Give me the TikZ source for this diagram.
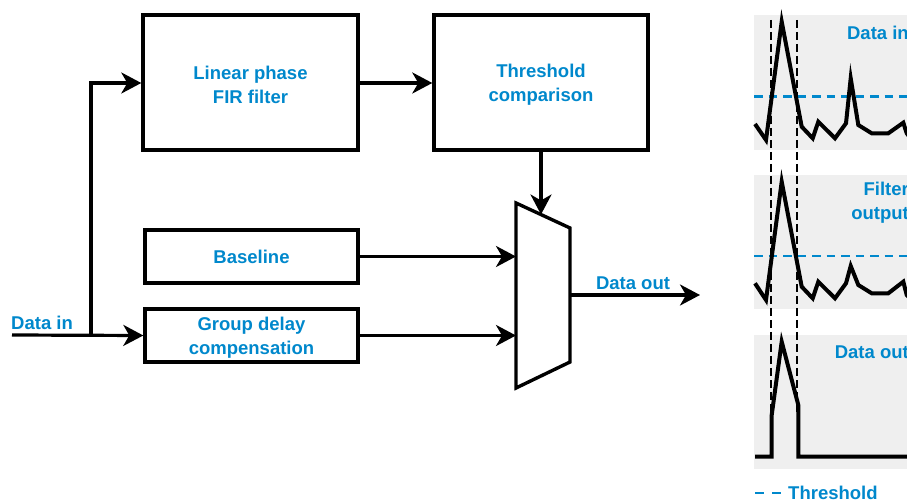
\documentclass[tikz,border=0pt]{standalone}
\usepackage{fontspec}
\setmainfont{Liberation Sans}
\usetikzlibrary{arrows.meta,calc}
\definecolor{lblue}{RGB}{0,136,204}
\definecolor{panelgray}{RGB}{239,239,239}
\tikzset{
  block/.style={draw, line width=3.4pt, minimum width=213pt, minimum height=53pt, inner sep=0pt},
  lbl/.style={text=lblue, font=\fontsize{18.5}{24}\selectfont\bfseries, align=center, inner sep=0pt},
  wire/.style={line width=3.2pt, -{Stealth[length=20pt,width=21pt,inset=6pt]}},
  panel/.style={fill=panelgray, draw=none},
  thr/.style={draw=lblue, line width=2.5pt, dash pattern=on 8.5pt off 6pt},
  mark line/.style={line width=2pt, dash pattern=on 8pt off 4pt},
  sig/.style={line width=4pt, line join=miter}
}
\begin{document}
\begin{tikzpicture}[x=1pt,y=-1pt]
\useasboundingbox (0,0) rectangle (907,502);
% processing chain
\node[block, minimum width=215pt, minimum height=135pt] (fir) at (250.5,82.5) {};
\node[lbl, yshift=-2.5pt] at (fir.center) {Linear phase\\FIR filter};
\node[block, minimum width=214pt, minimum height=135pt] (cmp) at (541,82.5) {};
\node[lbl, yshift=-2.5pt] at (cmp.center) {Threshold\\comparison};
\node[block] (base) at (251.5,256.5) {};
\node[lbl] at (base.center) {Baseline};
\node[block] (gd) at (251.5,335.5) {};
\node[lbl, yshift=-2pt] at (gd.center) {Group delay\\compensation};
% multiplexer
\coordinate (m1) at (516,203);
\coordinate (m2) at (570,228);
\coordinate (m3) at (570,362);
\coordinate (m4) at (516,388);
\draw[line width=3.4pt, line join=miter] (m1) -- (m2) -- (m3) -- (m4) -- cycle;
\coordinate (sel) at (541,214.5);
\coordinate (mout) at (570,295);
\coordinate (dout) at (700,295);
% input and branch
\coordinate (din) at (12,335);
\coordinate (split) at (91,335);
\node[lbl, anchor=west] (dinlbl) at (11,323) {Data in};
\node[lbl] (doutlbl) at (633,283) {Data out};
\draw[wire] (din) -- (gd.west);
\draw[wire] (split) |- (fir.west |- 0,83);
\draw[wire] (fir.east |- 0,83) -- (cmp.west |- 0,83);
\draw[wire] (cmp.south -| sel) -- (sel);
\draw[wire] (base.east) -- (base.east -| m1);
\draw[wire] (gd.east) -- (gd.east -| m1);
\draw[wire] (mout) -- (dout);
% waveform panels
\fill[panel] (754,15) rectangle (920,150.5);
\fill[panel] (754,175) rectangle (920,309);
\fill[panel] (754,335) rectangle (920,469);
\draw[mark line] (771,20) -- (771,415);
\draw[mark line] (797,20) -- (797,415);
\draw[thr] (754,96.7) -- (920,96.7);
\draw[thr] (754,256) -- (920,256);
\draw[sig] (755,124) -- (766,140) -- (781.7,21.7) -- (801.7,126.7) -- (812.7,138.3)
  -- (818.3,121.7) -- (835,138.3) -- (846,123.3) -- (850.7,78.3) -- (858.3,125)
  -- (871.7,133.3) -- (888.3,133.3) -- (903.3,122.7) -- (906.7,133.3) -- (912,140);
\draw[sig] (755,283.3) -- (766,300) -- (781.7,181.7) -- (801.7,286.7) -- (812.7,298.3)
  -- (818.3,281.7) -- (835,298.3) -- (846,283.3) -- (850.7,266) -- (858.3,285)
  -- (871.7,293.3) -- (888.3,293.3) -- (903.3,281.7) -- (906.7,295) -- (912,300);
\draw[sig] (755,456.7) -- (771.7,456.7) -- (771.7,415) -- (781.7,341.7) -- (798.3,405)
  -- (798.3,456.7) -- (915,456.7);
\node[lbl, anchor=east] (inlbl) at (909,33) {Data in};
\node[lbl, anchor=east, align=right] (filtlbl) at (909,203) {Filter\\output};
\node[lbl, anchor=east] (outlbl) at (909,352) {Data out};
% legend
\draw[draw=lblue, line width=2.5pt, dash pattern=on 9pt off 8pt] (755,493) -- (782,493);
\node[lbl, anchor=west] (leg) at (788,493) {Threshold};
\end{tikzpicture}
\end{document}
